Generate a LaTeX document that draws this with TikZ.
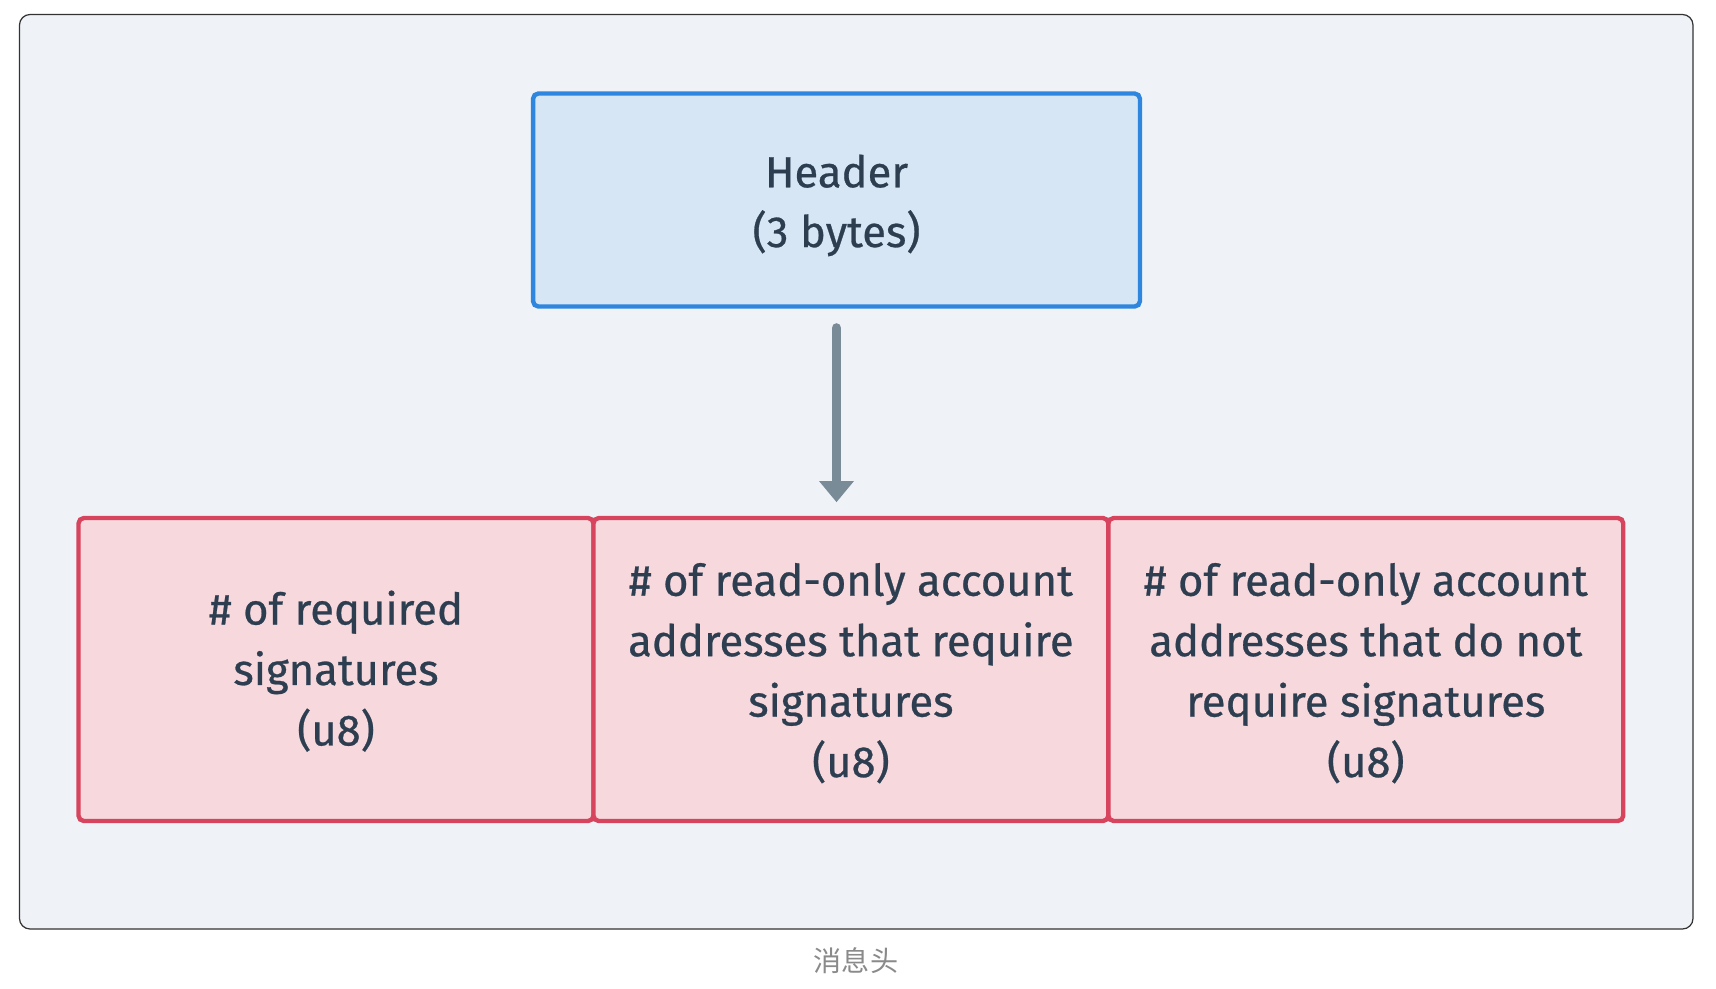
\documentclass[tikz,border=0pt]{standalone}
\usepackage{fontspec}
\setmainfont{Fira Sans}[FakeBold=0.6]
\newfontfamily\cjk{Noto Sans CJK SC}
\usetikzlibrary{arrows.meta, positioning}
\definecolor{panelbg}{HTML}{EFF3F7}
\definecolor{inktext}{HTML}{2C3E50}
\definecolor{hdrfill}{HTML}{D6E6F5}
\definecolor{hdrline}{HTML}{2E86DE}
\definecolor{fldfill}{HTML}{F6D8DD}
\definecolor{fldline}{HTML}{D6455D}
\definecolor{arrowgray}{HTML}{7A8B98}
\definecolor{captiongray}{HTML}{8A8A8A}

\begin{document}
\begin{tikzpicture}[x=0.02cm, y=-0.02cm,
  hdrbox/.style={draw=hdrline, fill=hdrfill, line width=2.5pt, rounded corners=3pt,
    minimum width=12.14cm, minimum height=4.26cm, align=center, text=inktext,
    font=\fontsize{24.8}{34}\selectfont, text height=58.8pt},
  fieldbox/.style={draw=fldline, fill=fldfill, line width=2.5pt, rounded corners=3pt,
    minimum width=10.3cm, minimum height=6.06cm, align=center, text=inktext,
    font=\fontsize{24.8}{34.4}\selectfont, inner sep=0pt, outer sep=0pt}]
  \useasboundingbox (0,0) rectangle (1716,988);

  % Panel
  \draw[fill=panelbg, draw=black!80, line width=0.7pt, rounded corners=6pt]
    (19.5,14.5) rectangle (1693,929);

  % Header
  \node[hdrbox] (hdr) at (836.5,200) {Header\\(3 bytes)};

  % Fields
  \node[fieldbox, text height=90pt] (req) at (336,669.5) {\# of required\\signatures\\(u8)};
  \node[fieldbox, text height=126pt, right=0pt of req] (rosig) {\# of read-only account\\addresses that require\\signatures\\(u8)};
  \node[fieldbox, text height=126pt, right=0pt of rosig] (rounsig) {\# of read-only account\\addresses that do not\\require signatures\\(u8)};

  % Arrow
  \draw[arrowgray, line width=5.5pt, line cap=round,
    -{Triangle[width=19pt, length=12pt]}, shorten <=11pt, shorten >=9pt]
    (hdr.south) -- (hdr.south |- rosig.north);

  % Caption
  \node[text=captiongray, font=\cjk\fontsize{16}{18}\selectfont] (cap) at (856,961) {消息头};
\end{tikzpicture}
\end{document}
